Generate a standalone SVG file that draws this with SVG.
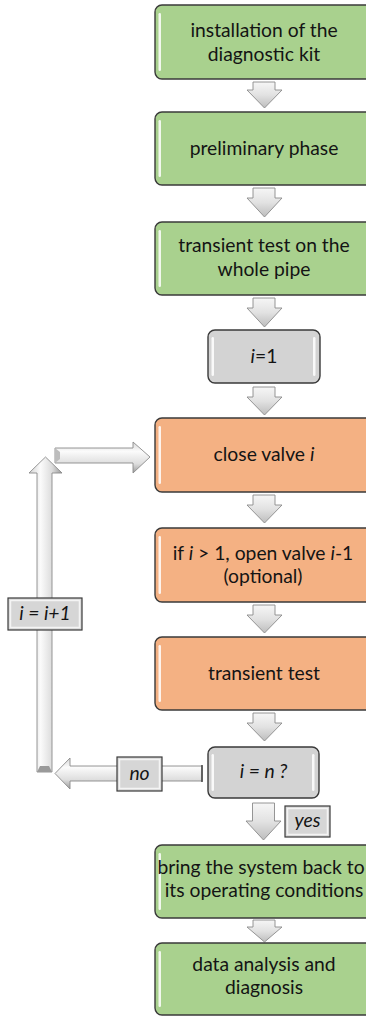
<svg xmlns="http://www.w3.org/2000/svg" width="366" height="1016" viewBox="0 0 366 1016">
  <defs>
    <style>
      .box { stroke: #3a3a3a; stroke-width: 1.4; }
      .green { fill: #a9d18e; }
      .orange { fill: #f4b183; }
      .grey { fill: #d3d3d3; }
      .shine { fill: #ffffff; opacity: 0.85; }
      .txt { font-family: Lato, "Open Sans", sans-serif; font-size: 19.3px; fill: #141414; text-anchor: middle; }
      .it { font-style: italic; }
      .tag { fill: #d6d6d6; stroke: #3a3a3a; stroke-width: 1.2; }
      .tagin { fill: none; stroke: #f4f4f4; stroke-width: 1.5; }
      .arr { stroke: #8a8a8a; stroke-width: 0.9; stroke-linejoin: miter; }
    </style>
    <linearGradient id="gDown" x1="0" y1="0" x2="0" y2="1">
      <stop offset="0" stop-color="#f6f6f6"/>
      <stop offset="0.5" stop-color="#e2e2e2"/>
      <stop offset="1" stop-color="#bdbdbd"/>
    </linearGradient>
    <linearGradient id="gVert" x1="0" y1="0" x2="1" y2="0">
      <stop offset="0" stop-color="#d2d2d2"/>
      <stop offset="0.35" stop-color="#fbfbfb"/>
      <stop offset="0.7" stop-color="#dcdcdc"/>
      <stop offset="1" stop-color="#9a9a9a"/>
    </linearGradient>
    <linearGradient id="gHorz" x1="0" y1="0" x2="0" y2="1">
      <stop offset="0" stop-color="#d6d6d6"/>
      <stop offset="0.3" stop-color="#fbfbfb"/>
      <stop offset="0.7" stop-color="#dedede"/>
      <stop offset="1" stop-color="#9a9a9a"/>
    </linearGradient>
  </defs>

  <rect width="366" height="1016" fill="#ffffff"/>

  <!-- connectors -->
  <g id="connectors">
    <!-- short downward block arrows between steps -->
    <path class="arr" fill="url(#gDown)" d="M253,82 H275 V90 H282 L264.5,108 L247,90 H253 Z"/>
    <path class="arr" fill="url(#gDown)" d="M253,188 H275 V198 H282 L264.5,217 L247,198 H253 Z"/>
    <path class="arr" fill="url(#gDown)" d="M253,298 H275 V308 H282 L264.5,327 L247,308 H253 Z"/>
    <path class="arr" fill="url(#gDown)" d="M253,387 H275 V397 H282 L264.5,415 L247,397 H253 Z"/>
    <path class="arr" fill="url(#gDown)" d="M253,495 H275 V505 H282 L264.5,523 L247,505 H253 Z"/>
    <path class="arr" fill="url(#gDown)" d="M253,605 H275 V615 H282 L264.5,633 L247,615 H253 Z"/>
    <path class="arr" fill="url(#gDown)" d="M253,713 H275 V723 H282 L264.5,741 L247,723 H253 Z"/>
    <path class="arr" fill="url(#gDown)" d="M252.5,803 H274.5 V821 H281 L263.5,840 L246,821 H252.5 Z"/>
    <path class="arr" fill="url(#gDown)" d="M253,920 H275 V927 H282 L264.5,942 L247,927 H253 Z"/>

    <!-- "no" branch: leftward arrow from the decision -->
    <path class="arr" fill="url(#gHorz)" d="M202,766 V781 H70 V789 L55,773.5 L70,758 V766 Z"/>
    <line x1="202" y1="765" x2="202" y2="782" stroke="#4a4a4a" stroke-width="1.6"/>

    <!-- return line up the left side -->
    <path class="arr" fill="url(#gVert)" d="M37,772 V473 H29 L45.5,457 L62,473 H52 V772 Z"/>
    <path d="M37,772 L40,766 H49 L52,772 Z" fill="#9a9a9a"/>

    <!-- rightward arrow into "close valve i" -->
    <path class="arr" fill="url(#gHorz)" d="M55,448 H133 V442 L150,457 L133,473 V463 H55 Z"/>
    <path d="M55,448 L60,452 V459 L55,463 Z" fill="#bdbdbd"/>
  </g>

  <!-- process steps -->
  <g id="step-install">
    <rect class="box green" x="155" y="5" width="220" height="74" rx="7"/>
    <rect class="shine" x="158.5" y="13" width="2.5" height="58" rx="1.2"/>
    <text class="txt" x="264" y="37">installation of the</text>
    <text class="txt" x="264" y="61">diagnostic kit</text>
  </g>

  <g id="step-preliminary">
    <rect class="box green" x="155" y="112" width="220" height="73" rx="7"/>
    <rect class="shine" x="158.5" y="120" width="2.5" height="57" rx="1.2"/>
    <text class="txt" x="264" y="155">preliminary phase</text>
  </g>

  <g id="step-transient-whole">
    <rect class="box green" x="155" y="222" width="220" height="73" rx="7"/>
    <rect class="shine" x="158.5" y="230" width="2.5" height="57" rx="1.2"/>
    <text class="txt" x="264" y="252">transient test on the</text>
    <text class="txt" x="264" y="276">whole pipe</text>
  </g>

  <g id="step-init">
    <rect class="box grey" x="208" y="330" width="112" height="53" rx="7"/>
    <rect class="shine" x="211.5" y="337" width="2.5" height="39" rx="1.2"/>
    <rect class="shine" x="313" y="337" width="2.5" height="39" rx="1.2"/>
    <text class="txt" x="264" y="363"><tspan class="it">i</tspan>=1</text>
  </g>

  <g id="step-close">
    <rect class="box orange" x="155" y="418" width="220" height="74" rx="7"/>
    <rect class="shine" x="158.5" y="426" width="2.5" height="58" rx="1.2"/>
    <text class="txt" x="264" y="461">close valve <tspan class="it">i</tspan></text>
  </g>

  <g id="step-open-prev">
    <rect class="box orange" x="155" y="528" width="220" height="74" rx="7"/>
    <rect class="shine" x="158.5" y="536" width="2.5" height="58" rx="1.2"/>
    <text class="txt" x="263" y="560">if <tspan class="it">i</tspan> &gt; 1, open valve <tspan class="it">i</tspan>-1</text>
    <text class="txt" x="263" y="583">(optional)</text>
  </g>

  <g id="step-transient">
    <rect class="box orange" x="155" y="637" width="220" height="73" rx="7"/>
    <rect class="shine" x="158.5" y="645" width="2.5" height="57" rx="1.2"/>
    <text class="txt" x="264" y="680">transient test</text>
  </g>

  <g id="decision">
    <rect class="box grey" x="208" y="747" width="111" height="51" rx="7"/>
    <rect class="shine" x="211.5" y="754" width="2.5" height="37" rx="1.2"/>
    <rect class="shine" x="312" y="754" width="2.5" height="37" rx="1.2"/>
    <text class="txt it" x="263.5" y="778">i = n ?</text>
  </g>

  <g id="step-restore">
    <rect class="box green" x="155" y="845" width="220" height="73" rx="7"/>
    <rect class="shine" x="158.5" y="853" width="2.5" height="57" rx="1.2"/>
    <text class="txt" x="261" y="874">bring the system back to</text>
    <text class="txt" x="264" y="897">its operating conditions</text>
  </g>

  <g id="step-analysis">
    <rect class="box green" x="155" y="943" width="220" height="72" rx="7"/>
    <rect class="shine" x="158.5" y="951" width="2.5" height="56" rx="1.2"/>
    <text class="txt" x="264" y="971">data analysis and</text>
    <text class="txt" x="264" y="994">diagnosis</text>
  </g>

  <!-- branch labels -->
  <g id="label-increment">
    <rect class="tag" x="8" y="598" width="74" height="32"/>
    <rect class="tagin" x="10.5" y="600.5" width="69" height="27"/>
    <text class="txt it" x="45" y="620">i = i+1</text>
  </g>

  <g id="label-no">
    <rect class="tag" x="117" y="757" width="45" height="34"/>
    <rect class="tagin" x="119.5" y="759.5" width="40" height="29"/>
    <text class="txt it" x="139.5" y="780">no</text>
  </g>

  <g id="label-yes">
    <rect class="tag" x="285" y="806" width="45" height="31"/>
    <rect class="tagin" x="287.5" y="808.5" width="40" height="26"/>
    <text class="txt it" x="307.5" y="827">yes</text>
  </g>
</svg>
